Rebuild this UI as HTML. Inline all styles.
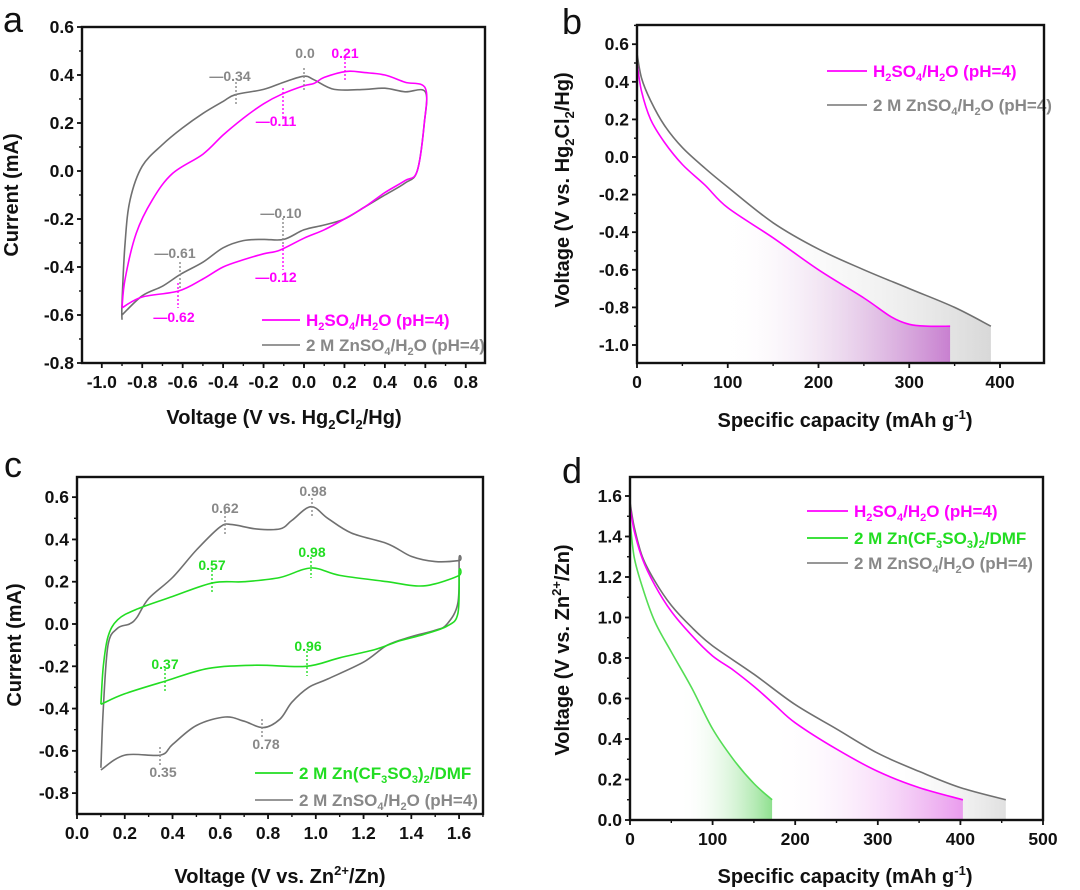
<!DOCTYPE html>
<html><head><meta charset="utf-8">
<style>
html,body{margin:0;padding:0;background:#fff;}
svg{display:block;font-family:"Liberation Sans",Arial,sans-serif;font-weight:bold;}
</style></head>
<body>
<svg id="s" width="1080" height="890" viewBox="0 0 1080 890" xmlns="http://www.w3.org/2000/svg">
<defs>
<linearGradient id="gm" x1="0" x2="1" y1="0" y2="0"><stop offset="0" stop-color="#fff" stop-opacity="0"/><stop offset="1" stop-color="#c880d0"/></linearGradient>
<linearGradient id="gg" x1="0" x2="1" y1="0" y2="0"><stop offset="0" stop-color="#fff" stop-opacity="0"/><stop offset="1" stop-color="#d8d8d8"/></linearGradient>
<linearGradient id="gm2" x1="0" x2="1" y1="0" y2="0"><stop offset="0" stop-color="#fff" stop-opacity="0"/><stop offset="1" stop-color="#ea9cee"/></linearGradient>
<linearGradient id="gn" x1="0" x2="1" y1="0" y2="0"><stop offset="0" stop-color="#fff" stop-opacity="0"/><stop offset="1" stop-color="#8fe08f"/></linearGradient>
<linearGradient id="gg2" x1="0" x2="1" y1="0" y2="0"><stop offset="0" stop-color="#fff" stop-opacity="0"/><stop offset="1" stop-color="#e0e0e0"/></linearGradient>
</defs>
<g id="root"></g>
</svg>
<script>
const NS="http://www.w3.org/2000/svg",root=document.getElementById('root');
function el(t,a,txt,parent){const e=document.createElementNS(NS,t);for(const k in a)e.setAttribute(k,a[k]);if(txt!==undefined)e.innerHTML=txt;(parent||root).appendChild(e);return e;}
function mk(ox,oy,sx,sy){return (x,y)=>[ox+x*sx,oy-y*sy];}
function smooth(pts){let d="M"+pts[0][0].toFixed(1)+","+pts[0][1].toFixed(1);
 for(let i=0;i<pts.length-1;i++){const p0=pts[i-1]||pts[i],p1=pts[i],p2=pts[i+1],p3=pts[i+2]||p2;
  const c1=[p1[0]+(p2[0]-p0[0])/6,p1[1]+(p2[1]-p0[1])/6],c2=[p2[0]-(p3[0]-p1[0])/6,p2[1]-(p3[1]-p1[1])/6];
  d+="C"+c1.map(v=>v.toFixed(1))+" "+c2.map(v=>v.toFixed(1))+" "+p2.map(v=>v.toFixed(1));}
 return d;}
function curve(T,data,color,w){const p=data.map(d=>T(d[0],d[1]));el('path',{d:smooth(p),fill:'none',stroke:color,'stroke-width':w||1.6,'stroke-linejoin':'round'});}
function fill(T,data,x0,ybot,grad){const p=data.filter(d=>d[0]>=x0).map(d=>T(d[0],d[1]));const first=T(x0,interp(data,x0));p.unshift(first);
 let d=smooth(p);const last=p[p.length-1];d+="L"+last[0]+","+ybot+"L"+first[0]+","+ybot+"Z";el('path',{d:d,fill:'url(#'+grad+')',stroke:'none'});}
function interp(data,x){for(let i=0;i<data.length-1;i++){if(data[i][0]<=x&&data[i+1][0]>=x){const t=(x-data[i][0])/(data[i+1][0]-data[i][0]);return data[i][1]+t*(data[i+1][1]-data[i][1]);}}return data[data.length-1][1];}
function frame(x1,y1,x2,y2){el('rect',{x:x1,y:y1,width:x2-x1,height:y2-y1,fill:'none',stroke:'#111','stroke-width':2.4});}
function xticks(T,y,vals,minor,fmt,x1,x2){vals.forEach(v=>{const [px]=T(v,0);el('line',{x1:px,x2:px,y1:y,y2:y+5,stroke:'#111','stroke-width':1.8});el('text',{x:px,y:y+25,'text-anchor':'middle','font-size':17.5,fill:'#111'},fmt(v));});
 minor.forEach(v=>{const [px]=T(v,0);if(px>x1&&px<x2)el('line',{x1:px,x2:px,y1:y,y2:y+3,stroke:'#111','stroke-width':1.4});});}
function yticks(T,x,vals,minor,fmt,y1,y2){vals.forEach(v=>{const py=T(0,v)[1];el('line',{x1:x,x2:x-5,y1:py,y2:py,stroke:'#111','stroke-width':1.8});el('text',{x:x-8,y:py+6,'text-anchor':'end','font-size':17.5,fill:'#111'},fmt(v));});
 minor.forEach(v=>{const py=T(0,v)[1];if(py>y1&&py<y2)el('line',{x1:x,x2:x-3,y1:py,y2:py,stroke:'#111','stroke-width':1.4});});}
function rng(a,b,s){const r=[];for(let v=a;v<=b+1e-9;v+=s)r.push(Math.round(v*1000)/1000);return r;}
const f1=v=>v.toFixed(1),f0=v=>v.toFixed(0);
function lbl(x,y,t,c,fs){el('text',{x:x,y:y,'text-anchor':'middle','font-size':fs||13,fill:c},t);}
function dash(x,y1,y2,c){el('line',{x1:x,x2:x,y1:y1,y2:y2,stroke:c,'stroke-width':1.4,'stroke-dasharray':'2,2'});}
function leg(x1,x2,y,c,t){el('line',{x1:x1,x2:x2,y1:y,y2:y,stroke:c,'stroke-width':1.8});el('text',{x:x2+6,y:y+6,'font-size':17,fill:c},t);}
const MG='#ff00ff',GR='#707070',GL='#888',GN='#22dd22';
const S=(n)=>'<tspan font-size="11" dy="4">'+n+'</tspan><tspan dy="-4">';
const LH=()=>'H'+S(2)+'SO</tspan>'+S(4)+'/H</tspan>'+S(2)+'O (pH=4)</tspan>';
const LZ=()=>'2 M ZnSO'+S(4)+'/H</tspan>'+S(2)+'O (pH=4)</tspan>';
const LC=()=>'2 M Zn(CF'+S(3)+'SO</tspan>'+S(3)+')</tspan>'+S(2)+'/DMF</tspan>';

/* ---------- panel a ---------- */
let T=mk(304,171,202.2,240);
el('text',{x:3,y:32,'font-size':36,'font-weight':'normal',fill:'#111'},'a');
const ga=[[-0.9,-0.62],[-0.9,-0.55],[-0.885,-0.3],[-0.86,-0.12],[-0.8,0.02],[-0.7,0.11],[-0.6,0.18],[-0.5,0.24],[-0.4,0.29],[-0.34,0.318],[-0.2,0.34],[-0.1,0.37],[0,0.395],[0.05,0.38],[0.15,0.34],[0.3,0.34],[0.4,0.345],[0.5,0.33],[0.6,0.33],[0.595,0.2],[0.56,0.0],[0.5,-0.05],[0.4,-0.1],[0.3,-0.15],[0.2,-0.2],[0.1,-0.225],[0,-0.245],[-0.1,-0.285],[-0.2,-0.285],[-0.3,-0.29],[-0.4,-0.32],[-0.5,-0.38],[-0.61,-0.43],[-0.7,-0.48],[-0.8,-0.52],[-0.9,-0.6]];
const ma=[[-0.9,-0.57],[-0.885,-0.45],[-0.83,-0.26],[-0.75,-0.12],[-0.65,-0.01],[-0.5,0.07],[-0.4,0.15],[-0.3,0.22],[-0.2,0.28],[-0.11,0.32],[0,0.355],[0.05,0.365],[0.1,0.39],[0.21,0.415],[0.3,0.41],[0.4,0.4],[0.5,0.37],[0.6,0.345],[0.595,0.2],[0.56,0.0],[0.5,-0.04],[0.4,-0.09],[0.3,-0.15],[0.2,-0.2],[0.1,-0.245],[0,-0.28],[-0.12,-0.33],[-0.2,-0.345],[-0.3,-0.37],[-0.4,-0.4],[-0.5,-0.45],[-0.62,-0.5],[-0.8,-0.525],[-0.9,-0.57]];
curve(T,ga,GR);curve(T,ma,MG);
dash(304,68,90,GL);dash(345,58,82,MG);dash(236,82,105,GL);dash(283,88,118,MG);dash(283,218,245,GL);dash(180,262,290,GL);dash(283,245,270,MG);dash(178,283,308,MG);
lbl(305,58,'0.0',GL,14);lbl(345,58,'0.21',MG,14);lbl(230,81,'—0.34',GL,14);lbl(276,126,'—0.11',MG,14);lbl(281,218,'—0.10',GL,14);lbl(175,258,'—0.61',GL,14);lbl(276,282,'—0.12',MG,14);lbl(174,322,'—0.62',MG,14);
leg(262,300,320,MG,LH());
leg(262,300,345,GL,LZ());
frame(82,27,485,363);
xticks(T,363,rng(-1,0.8,0.2),rng(-1.1,0.9,0.1),f1,82,485);
yticks(T,82,rng(-0.8,0.6,0.2),rng(-0.8,0.6,0.1),f1,27,363);
el('text',{x:284,y:424,'text-anchor':'middle','font-size':20,fill:'#111'},'Voltage (V vs. Hg<tspan font-size="13" dy="5">2</tspan><tspan dy="-5">Cl</tspan><tspan font-size="13" dy="5">2</tspan><tspan dy="-5">/Hg)</tspan>');
el('text',{transform:'translate(18,195) rotate(-90)','text-anchor':'middle','font-size':20,fill:'#111'},'Current (mA)');

/* ---------- panel b ---------- */
T=mk(637,157,0.9075,188);
el('text',{x:562,y:34,'font-size':36,'font-weight':'normal',fill:'#111'},'b');
const gb=[[0,0.55],[5,0.42],[15,0.3],[30,0.17],[50,0.05],[75,-0.06],[100,-0.16],[150,-0.35],[200,-0.49],[250,-0.6],[300,-0.7],[350,-0.8],[390,-0.9]];
const mb=[[0,0.5],[5,0.35],[15,0.2],[30,0.08],[50,-0.04],[75,-0.15],[100,-0.27],[150,-0.43],[200,-0.6],[250,-0.75],[280,-0.85],[300,-0.89],[320,-0.9],[345,-0.9]];
fill(T,gb,100,363,'gg');fill(T,mb,100,363,'gm');
curve(T,gb,GR);curve(T,mb,MG);
leg(827,867,71,MG,LH());
leg(827,867,105,GL,LZ());
frame(637,25,1044,363);
xticks(T,363,rng(0,400,100),rng(0,450,50),f0,637,1044);
yticks(T,637,rng(-1,0.6,0.2),rng(-1.1,0.7,0.1),f1,25,363);
el('text',{x:845,y:427,'text-anchor':'middle','font-size':20,fill:'#111'},'Specific capacity (mAh g<tspan font-size="13" dy="-8">-1</tspan><tspan dy="8">)</tspan>');
el('text',{transform:'translate(569,190) rotate(-90)','text-anchor':'middle','font-size':20,fill:'#111'},'Voltage (V vs. Hg<tspan font-size="13" dy="5">2</tspan><tspan dy="-5">Cl</tspan><tspan font-size="13" dy="5">2</tspan><tspan dy="-5">/Hg)</tspan>');

/* ---------- panel c ---------- */
T=mk(77,624,238.8,211.4);
el('text',{x:4,y:477,'font-size':36,'font-weight':'normal',fill:'#111'},'c');
const gc=[[0.1,-0.68],[0.11,-0.4],[0.13,-0.1],[0.17,-0.02],[0.22,0.0],[0.25,0.03],[0.3,0.12],[0.4,0.22],[0.5,0.35],[0.6,0.46],[0.65,0.47],[0.75,0.45],[0.85,0.45],[0.9,0.49],[0.98,0.555],[1.05,0.5],[1.15,0.43],[1.3,0.38],[1.4,0.32],[1.5,0.295],[1.6,0.3],[1.6,0.31],[1.595,0.1],[1.55,0.0],[1.5,-0.03],[1.4,-0.06],[1.3,-0.1],[1.2,-0.18],[1.05,-0.26],[0.97,-0.3],[0.9,-0.37],[0.85,-0.45],[0.78,-0.49],[0.7,-0.46],[0.62,-0.44],[0.5,-0.48],[0.4,-0.57],[0.35,-0.62],[0.2,-0.62],[0.1,-0.69]];
const nc=[[0.1,-0.38],[0.11,-0.2],[0.13,-0.06],[0.17,0.02],[0.25,0.07],[0.4,0.13],[0.57,0.195],[0.7,0.2],[0.85,0.22],[0.98,0.265],[1.1,0.23],[1.3,0.2],[1.42,0.18],[1.5,0.19],[1.6,0.23],[1.6,0.25],[1.595,0.05],[1.55,-0.01],[1.45,-0.05],[1.35,-0.08],[1.25,-0.12],[1.1,-0.16],[0.96,-0.2],[0.75,-0.195],[0.55,-0.21],[0.37,-0.27],[0.2,-0.33],[0.1,-0.38]];
curve(T,gc,GR);curve(T,nc,GN);
dash(225,508,535,GL);dash(312,498,518,GL);dash(212,570,592,GN);dash(311,557,578,GN);dash(307,651,676,GN);dash(165,669,693,GN);dash(262,719,738,GL);dash(160,747,765,GL);
lbl(225,513,'0.62',GL,14);lbl(313,496,'0.98',GL,14);lbl(212,570,'0.57',GN,14);lbl(312,557,'0.98',GN,14);lbl(308,651,'0.96',GN,14);lbl(165,669,'0.37',GN,14);lbl(266,749,'0.78',GL,14);lbl(163,777,'0.35',GL,14);
leg(255,293,773,GN,LC());
leg(255,293,800,GL,LZ());
frame(77,477,483,814);
xticks(T,814,rng(0,1.6,0.2),rng(0,1.7,0.1),f1,77,483);
yticks(T,77,rng(-0.8,0.6,0.2),rng(-0.9,0.7,0.1),f1,477,814);
el('text',{x:280,y:883,'text-anchor':'middle','font-size':20,fill:'#111'},'Voltage (V vs. Zn<tspan font-size="13" dy="-8">2+</tspan><tspan dy="8">/Zn)</tspan>');
el('text',{transform:'translate(21,645) rotate(-90)','text-anchor':'middle','font-size':20,fill:'#111'},'Current (mA)');

/* ---------- panel d ---------- */
T=mk(630,820,0.826,202.5);
el('text',{x:562,y:483,'font-size':36,'font-weight':'normal',fill:'#111'},'d');
const gd=[[0,1.57],[5,1.45],[15,1.3],[30,1.18],[50,1.06],[75,0.95],[100,0.86],[150,0.72],[200,0.57],[250,0.45],[300,0.33],[350,0.24],[400,0.16],[455,0.1]];
const md=[[0,1.55],[5,1.43],[15,1.29],[30,1.16],[50,1.03],[75,0.91],[100,0.81],[125,0.74],[150,0.66],[175,0.57],[200,0.48],[250,0.35],[300,0.24],[350,0.16],[403,0.1]];
const nd=[[0,1.48],[5,1.3],[15,1.15],[30,0.98],[50,0.83],[75,0.65],[100,0.45],[125,0.3],[150,0.18],[172,0.1]];
fill(T,gd,300,820,'gg2');fill(T,md,170,820,'gm2');fill(T,nd,60,820,'gn');
curve(T,gd,GR);curve(T,md,MG);curve(T,nd,'#55dd55');
leg(807,848,511,MG,LH());
leg(807,848,538,GN,LC());
leg(807,848,563,GL,LZ());
frame(630,477,1043,820);
xticks(T,820,rng(0,500,100),rng(0,500,50),f0,630,1043);
yticks(T,630,rng(0,1.6,0.2),rng(0,1.7,0.1),f1,477,820);
el('text',{x:845,y:883,'text-anchor':'middle','font-size':20,fill:'#111'},'Specific capacity (mAh g<tspan font-size="13" dy="-8">-1</tspan><tspan dy="8">)</tspan>');
el('text',{transform:'translate(569,650) rotate(-90)','text-anchor':'middle','font-size':20,fill:'#111'},'Voltage (V vs. Zn<tspan font-size="13" dy="-8">2+</tspan><tspan dy="8">/Zn)</tspan>');
</script>
</body></html>
